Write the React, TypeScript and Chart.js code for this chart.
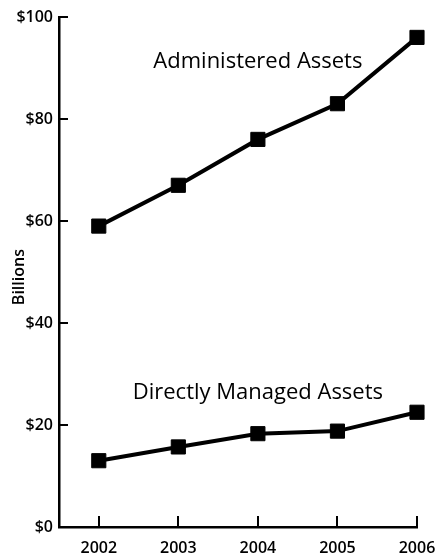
import React, { useEffect, useRef } from 'react';
import { Chart, registerables } from 'chart.js';

Chart.register(...registerables);

const years = [2002, 2003, 2004, 2005, 2006];
const administeredAssets = [59, 67, 76, 83, 96];
const directlyManagedAssets = [13, 15.7, 18.3, 18.8, 22.5];
const yTickValues = [0, 20, 40, 60, 80, 100];
const seriesLabels = ['Administered Assets', 'Directly Managed Assets'];
const yAxisTitle = 'Billions';

const FONT = '"Open Sans", "Noto Sans", sans-serif';

const inwardTicksAndLabels = {
  id: 'inwardTicksAndLabels',
  afterDatasetsDraw(chart: any) {
    const { ctx, scales, chartArea } = chart;
    const x = scales.x;
    const y = scales.y;
    ctx.save();
    ctx.strokeStyle = '#000';
    ctx.lineWidth = 2;
    ctx.lineCap = 'butt';
    years.forEach((v) => {
      const px = Math.round(x.getPixelForValue(v));
      ctx.beginPath();
      ctx.moveTo(px, chartArea.bottom);
      ctx.lineTo(px, chartArea.bottom - 11);
      ctx.stroke();
    });
    yTickValues.forEach((v) => {
      const py = Math.round(y.getPixelForValue(v));
      ctx.beginPath();
      ctx.moveTo(chartArea.left, py);
      ctx.lineTo(chartArea.left + 9, py);
      ctx.stroke();
    });
    ctx.fillStyle = '#000';
    ctx.textAlign = 'center';
    ctx.textBaseline = 'alphabetic';
    ctx.font = '22px ' + FONT;
    ctx.fillText(seriesLabels[0], x.getPixelForValue(2004), y.getPixelForValue(90));
    ctx.fillText(seriesLabels[1], x.getPixelForValue(2004), y.getPixelForValue(25.1));
    // rotated axis title
    ctx.save();
    ctx.translate(19, y.getPixelForValue(49));
    ctx.rotate(-Math.PI / 2);
    ctx.font = '600 16px ' + FONT;
    ctx.textBaseline = 'middle';
    ctx.fillText(yAxisTitle, 0, 0);
    ctx.restore();
    ctx.restore();
  },
};

export default function App() {
  const canvasRef = useRef<HTMLCanvasElement | null>(null);

  useEffect(() => {
    document.body.style.margin = '0';
    const canvas = canvasRef.current;
    if (!canvas) return;
    const makeData = (vals: number[]) => years.map((yr, i) => ({ x: yr, y: vals[i] }));
    const common = {
      borderColor: '#000',
      backgroundColor: '#000',
      borderWidth: 4,
      pointStyle: 'rect',
      pointRadius: 10,
      pointBorderWidth: 1,
      pointBackgroundColor: '#000',
      pointBorderColor: '#000',
      tension: 0,
      fill: false,
      clip: false,
    };
    const chart = new Chart(canvas, {
      type: 'line',
      data: {
        datasets: [
          { label: seriesLabels[0], data: makeData(administeredAssets), ...common },
          { label: seriesLabels[1], data: makeData(directlyManagedAssets), ...common },
        ],
      },
      options: {
        animation: false,
        responsive: false,
        maintainAspectRatio: false,
        layout: { padding: { top: 17, right: 18, left: 0, bottom: 0 } },
        plugins: {
          legend: { display: false },
          tooltip: { enabled: false },
        },
        scales: {
          x: {
            type: 'linear',
            min: 2001.5,
            max: 2006,
            afterBuildTicks: (scale: any) => {
              scale.ticks = years.map((v) => ({ value: v }));
            },
            afterFit: (scale: any) => {
              scale.height = 31;
              scale.paddingLeft = 0;
              scale.paddingRight = 0;
            },
            grid: { display: false, drawTicks: false },
            border: { display: true, color: '#000', width: 2.5 },
            ticks: {
              padding: 12,
              color: '#000',
              font: { family: FONT, size: 16, weight: '600' },
              callback: (v: any) => String(v),
              maxRotation: 0,
              autoSkip: false,
            },
          },
          y: {
            type: 'linear',
            min: 0,
            max: 100,
            afterBuildTicks: (scale: any) => {
              scale.ticks = yTickValues.map((v) => ({ value: v }));
            },
            afterFit: (scale: any) => {
              scale.width = 59;
              scale.paddingTop = 0;
              scale.paddingBottom = 0;
            },
            grid: { display: false, drawTicks: false },
            border: { display: true, color: '#000', width: 2.5 },
            ticks: {
              padding: 6,
              color: '#000',
              font: { family: FONT, size: 16, weight: '600' },
              callback: (v: any) => '$' + v,
            },
          },
        },
      },
      plugins: [inwardTicksAndLabels],
    } as any);
    return () => chart.destroy();
  }, []);

  return <canvas ref={canvasRef} width={435} height={558} style={{ display: 'block' }} />;
}
